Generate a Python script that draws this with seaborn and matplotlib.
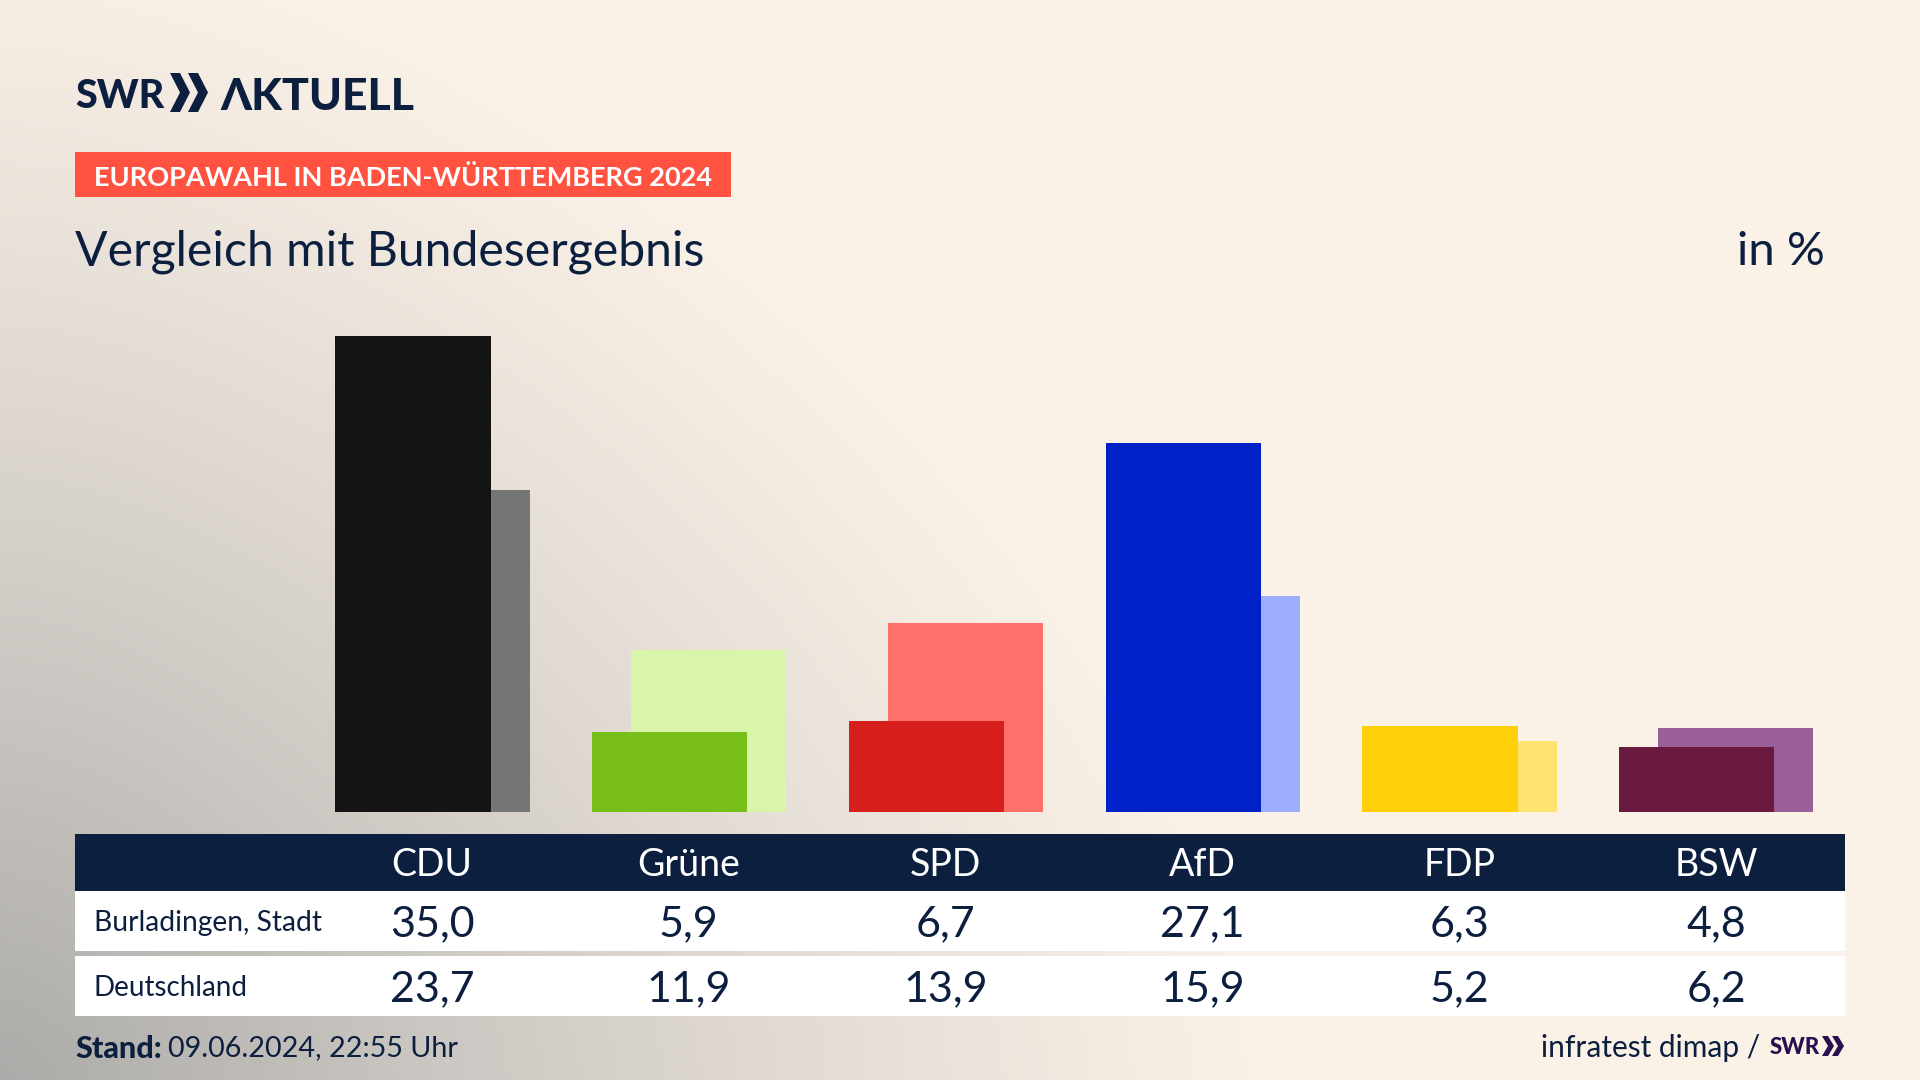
import numpy as np
import matplotlib
matplotlib.use("Agg")
import matplotlib.pyplot as plt
from matplotlib.patches import Rectangle, Polygon
import seaborn as sns

parties = ["CDU", "Grüne", "SPD", "AfD", "FDP", "BSW"]
burladingen = [35.0, 5.9, 6.7, 27.1, 6.3, 4.8]
deutschland = [23.7, 11.9, 13.9, 15.9, 5.2, 6.2]
row_labels = ["Burladingen, Stadt", "Deutschland"]
front_colors = ["#141414", "#78BE1A", "#D71F1D", "#0021C8", "#FFCF0A", "#6B1A3F"]
back_colors = ["#757575", "#D8F5AB", "#FF706B", "#9EAEFF", "#FFE270", "#9B5F97"]

NAVY = "#0C1F3F"
W, H = 1920, 1080
FONT = "Lato"

sns.set_theme(style="white")
plt.rcParams["font.family"] = [FONT, "DejaVu Sans"]

fig = plt.figure(figsize=(W / 100, H / 100), dpi=100)

# background gradient
bg = fig.add_axes([0, 0, 1, 1], zorder=0)
yy, xx = np.mgrid[0:H, 0:W]
d = ((xx / 1280.0) ** 1.6 + ((H - yy) / 1170.0) ** 1.6) ** (1 / 1.6)
t = np.clip(1 - d, 0, 1) ** 1.2
base = np.array([250, 241, 231]) / 255
dark = np.array([172, 171, 169]) / 255
bg.imshow(base + (dark - base) * t[..., None], aspect="auto", extent=(0, W, H, 0))
bg.axis("off")

# bars
pitch, bar_w, offset = 256.75, 155.2, 39.0
base_y, top_y, px_per_pct = 812.0, 300.0, 13.6
x0 = 413.1
ax = fig.add_axes([0, 1 - base_y / H, 1, (base_y - top_y) / H], zorder=1)
idx = np.arange(len(parties), dtype=float)
sns.barplot(x=idx + offset / pitch, y=deutschland, hue=parties, palette=back_colors,
            hue_order=parties, native_scale=True, dodge=False, width=bar_w / pitch,
            saturation=1, legend=False, edgecolor="none", linewidth=0, ax=ax)
sns.barplot(x=idx, y=burladingen, hue=parties, palette=front_colors,
            hue_order=parties, native_scale=True, dodge=False, width=bar_w / pitch,
            saturation=1, legend=False, edgecolor="none", linewidth=0, ax=ax)
ax.set_xlim(-x0 / pitch, (W - x0) / pitch)
ax.set_ylim(0, (base_y - top_y) / px_per_pct)
ax.axis("off")

# overlay in pixel coordinates
ov = fig.add_axes([0, 0, 1, 1], zorder=2)
ov.set_xlim(0, W)
ov.set_ylim(H, 0)
ov.axis("off")


def txt(x, y, s, size, color=NAVY, weight="normal", ha="left", family=FONT):
    return ov.text(x, y, s, fontsize=size, color=color, fontweight=weight,
                   ha=ha, va="center_baseline", family=[family, "DejaVu Sans"])


def right_edge(t_obj):
    bb = t_obj.get_window_extent(fig.canvas.get_renderer())
    return bb.x1


def chevrons(x, top, bottom, width, gap, thick, color):
    mid = (top + bottom) / 2
    for k in range(2):
        l = x + k * gap
        ov.add_patch(Polygon([(l, top), (l + thick, top), (l + width, mid),
                              (l + thick, bottom), (l, bottom), (l + width - thick, mid)],
                             closed=True, fc=color, ec="none"))


# logo
txt(75, 93, "SWR", 28.5, weight="black")
chevrons(170, 73, 112, 20, 18, 10, NAVY)
txt(220, 93, "ΛKTUELL", 32, weight="black")

# kicker, title
ov.add_patch(Rectangle((75, 152), 656, 45, fc="#FF5240", ec="none"))
txt(94, 175, "EUROPAWAHL IN BADEN-WÜRTTEMBERG 2024", 19.5, color="white", weight="bold")
txt(75, 248, "Vergleich mit Bundesergebnis", 34.7)
txt(1825, 248, "in %", 34, ha="right")

# table
ov.add_patch(Rectangle((75, 834), 1770, 57, fc=NAVY, ec="none"))
ov.add_patch(Rectangle((75, 891), 1770, 60, fc="white", ec="none"))
ov.add_patch(Rectangle((75, 956), 1770, 60, fc="white", ec="none"))
cx = 432 + 256.8 * idx
for c, p, a, b in zip(cx, parties, burladingen, deutschland):
    txt(c, 862, p, 27, color="white", ha="center")
    txt(c, 921, f"{a:.1f}".replace(".", ","), 31, ha="center")
    txt(c, 986, f"{b:.1f}".replace(".", ","), 31, ha="center")
txt(94, 921, row_labels[0], 20.3)
txt(94, 986, row_labels[1], 20)

# footer
s = txt(75, 1046, "Stand:", 22, weight="black")
fig.canvas.draw()
txt(right_edge(s) + 6, 1046, "09.06.2024, 22:55 Uhr", 20.7)
PURPLE = "#2A0F4F"
chevrons(1822, 1036, 1056, 12, 10, 6, PURPLE)
txt(1820, 1046, "SWR", 16, color=PURPLE, weight="black", ha="right")
txt(1760, 1046, "infratest dimap /", 21.5, ha="right")

fig.savefig("out.png", dpi=100)
